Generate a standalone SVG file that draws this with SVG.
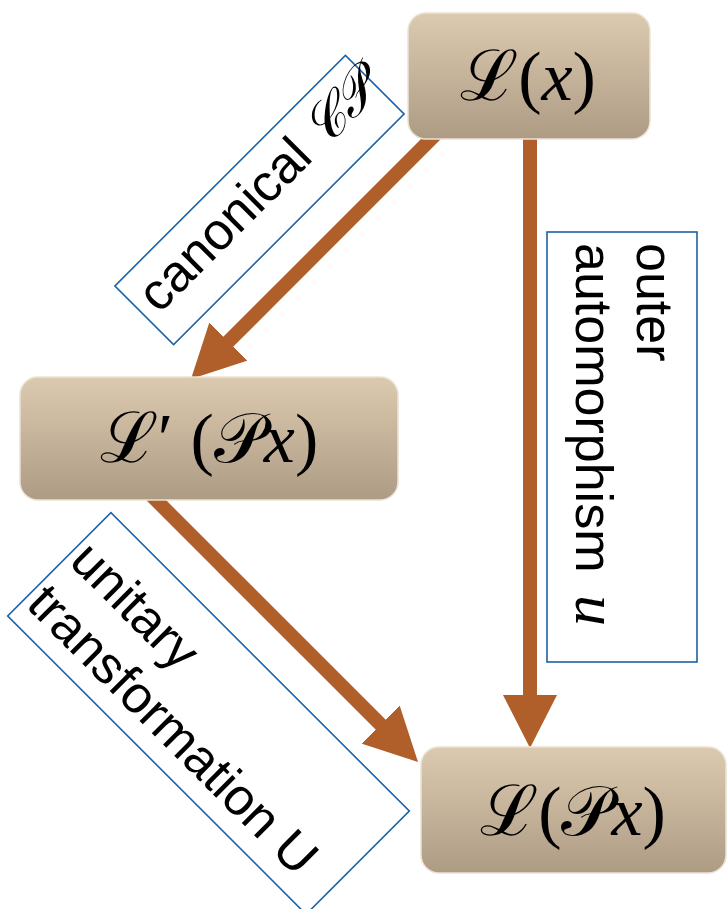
<svg xmlns="http://www.w3.org/2000/svg" width="727" height="909" viewBox="0 0 727 909">
  <defs>
    <linearGradient id="nodeFill" x1="0" y1="0" x2="0" y2="1">
      <stop offset="0" stop-color="#dccab0"/>
      <stop offset="1" stop-color="#ae9b84"/>
    </linearGradient>
    <marker id="head" viewBox="0 0 53 54" refX="23" refY="27" markerWidth="53" markerHeight="54" markerUnits="userSpaceOnUse" orient="auto">
      <path d="M0,0 L53,27 L0,54 Z" fill="#b05f2a"/>
    </marker>
  </defs>
  <style>
    .node rect { fill: url(#nodeFill); stroke: #ebe2d6; stroke-width: 1.5; }
    .edge { stroke: #b05f2a; stroke-width: 14; fill: none; marker-end: url(#head); }
    .lbox { fill: #ffffff; stroke: #1c62a6; stroke-width: 1.6; }
    .ltext { font-family: "Liberation Sans", Arial, sans-serif; font-size: 52px; fill: #000; }
    .math { font-family: "DejaVu Serif", "Liberation Serif", serif; font-style: italic; font-size: 54px; }
    .ntext { font-family: "Liberation Serif", serif; font-size: 70px; fill: #000; text-anchor: middle; }
    .it { font-family: "Liberation Serif", serif; font-style: italic; }
    .uvar { font-family: "Liberation Serif", serif; font-style: italic; font-size: 62px; }
  </style>

  <!-- connectors -->
  <g id="connectors">
    <line class="edge" x1="440" y1="130" x2="212.2" y2="357.8"/>
    <line class="edge" x1="530" y1="130" x2="530" y2="718"/>
    <line class="edge" x1="150" y1="494" x2="396.8" y2="740.8"/>
  </g>

  <!-- edge labels -->
  <g id="label-cp" transform="translate(259.5,200) rotate(-45)">
    <rect class="lbox" x="-163" y="-41.5" width="326" height="83"/>
    <text class="ltext" x="-152" y="10">canonical <tspan class="math">𝒞𝒫</tspan></text>
  </g>
  <g id="label-outer">
    <rect class="lbox" x="547" y="232" width="150" height="430"/>
    <g transform="translate(637,243) rotate(90)">
      <text class="ltext" x="0" y="0">outer</text>
      <text class="ltext" x="0" y="61">automorphism <tspan class="uvar" dx="8">u</tspan></text>
    </g>
  </g>
  <g id="label-unitary" transform="translate(208.5,713.5) rotate(45)">
    <rect class="lbox" x="-211" y="-73" width="422" height="146"/>
    <text class="ltext" x="-206" y="-7">unitary</text>
    <text class="ltext" x="-206" y="54">transformation U</text>
  </g>

  <!-- nodes -->
  <g id="node-Lx" class="node">
    <rect x="408" y="13" width="242" height="126" rx="18"/>
    <text class="ntext" x="528" y="100">ℒ(<tspan class="it">x</tspan>)</text>
  </g>
  <g id="node-LpPx" class="node">
    <rect x="20" y="377" width="378" height="123" rx="18"/>
    <text class="ntext" x="209" y="462">ℒ′ (𝒫<tspan class="it">x</tspan>)</text>
  </g>
  <g id="node-LPx" class="node">
    <rect x="421" y="747" width="305" height="126" rx="18"/>
    <text class="ntext" x="573" y="835">ℒ(𝒫<tspan class="it">x</tspan>)</text>
  </g>
</svg>
